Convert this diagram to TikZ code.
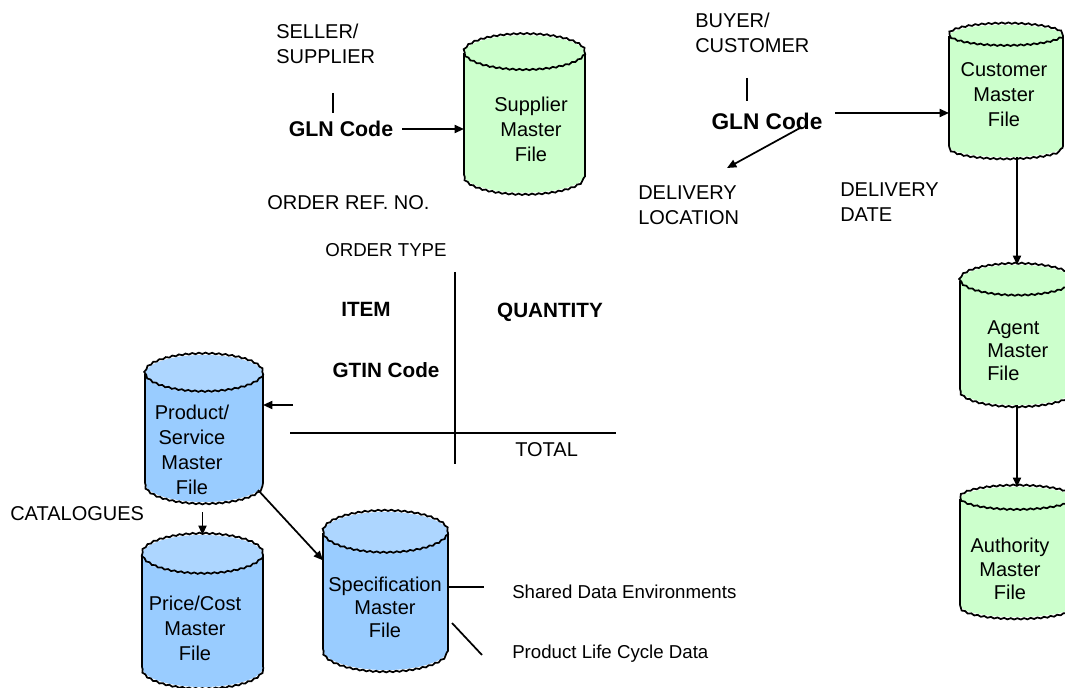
\documentclass[tikz,border=0pt]{standalone}
\usepackage{fontspec}
\setmainfont{Liberation Sans}
\usetikzlibrary{arrows.meta,decorations.pathmorphing}
\definecolor{dbgreen}{HTML}{CCFFCC}
\definecolor{dbblue}{HTML}{99CCFF}
\definecolor{dbbluetop}{HTML}{ADD6FF}
\tikzset{
  db/.style={draw=none, inner sep=0pt, outer sep=0pt, rectangle},
  ln/.style={line width=1.3pt, black},
  arr/.style={ln, -{Triangle[length=7pt,width=6pt]}},
  wav/.style={line width=1.3pt, black, decorate, decoration={snake, amplitude=0.5pt, segment length=5pt}},
  txt/.style={font=\fontsize{15}{18.75}\selectfont, inner sep=0pt},
  stxt/.style={font=\fontsize{14}{17.25}\selectfont, inner sep=0pt},
  btxt/.style={font=\fontsize{15.5}{18}\selectfont\bfseries, inner sep=0pt},
}
\newcommand\dbshape[5]{% name, body colour, top colour, half width, ry
  \fill[#2] ([yshift=-#5]#1.north west) -- ([yshift=#5]#1.south west)
     arc[start angle=180,end angle=360,x radius=#4,y radius=#5]
     -- ([yshift=-#5]#1.north east) -- cycle;
  \fill[#3] ([yshift=-#5]#1.north) ellipse[x radius=#4,y radius=#5];
  \draw[wav] ([yshift=-#5]#1.north) ellipse[x radius=#4,y radius=#5];
  \draw[ln] ([yshift=-#5]#1.north west) -- ([yshift=#5]#1.south west);
  \draw[ln] ([yshift=-#5]#1.north east) -- ([yshift=#5]#1.south east);
  \draw[wav] ([yshift=#5]#1.south west) arc[start angle=180,end angle=360,x radius=#4,y radius=#5];
}
\begin{document}
\begin{tikzpicture}[x=0.75pt,y=-0.75pt]
\useasboundingbox (0,0) rectangle (1065,688);
\fill[white] (0,0) rectangle (1065,688);

% databases
\node[db, minimum width=90.75pt, minimum height=118pt] (sup) at (524.5,114) {};
\dbshape{sup}{dbgreen}{dbgreen}{45.375pt}{13.5pt}
\node[db, minimum width=85.5pt, minimum height=99pt] (cust) at (1006,91) {};
\dbshape{cust}{dbgreen}{dbgreen}{42.75pt}{8.25pt}
\node[db, minimum width=85.5pt, minimum height=105pt] (agent) at (1017,335) {};
\dbshape{agent}{dbgreen}{dbgreen}{42.75pt}{12pt}
\node[db, minimum width=85.5pt, minimum height=97.5pt] (auth) at (1017,552) {};
\dbshape{auth}{dbgreen}{dbgreen}{42.75pt}{9pt}
\node[db, minimum width=88.5pt, minimum height=110.25pt] (prod) at (204,428.5) {};
\dbshape{prod}{dbblue}{dbbluetop}{44.25pt}{14.25pt}
\node[db, minimum width=90.75pt, minimum height=114pt] (price) at (202.5,611) {};
\dbshape{price}{dbblue}{dbbluetop}{45.375pt}{15pt}
\node[db, minimum width=93.75pt, minimum height=118.5pt] (spec) at (385.5,591) {};
\dbshape{spec}{dbblue}{dbbluetop}{46.875pt}{15.75pt}

% database texts
\node[txt, align=center] (tsup) at (531,129) {Supplier\\Master\\File};
\node[txt, align=center] (tcust) at (1004,95) {Customer\\Master\\File};
\node[txt, align=left, anchor=west, font=\fontsize{15}{17.25}\selectfont] (tagent) at (987,351) {Agent\\Master\\File};
\node[txt, align=center, font=\fontsize{15}{17.6}\selectfont] (tauth) at (1010,569) {Authority\\Master\\File};
\node[txt, align=center] (tprod) at (192,450) {Product/\\Service\\Master\\File};
\node[txt, align=center] (tprice) at (195,628) {Price/Cost\\Master\\File};
\node[txt, align=center, font=\fontsize{15}{17.25}\selectfont] (tspec) at (385,607) {Specification\\Master\\File};

% labels
\node[txt, align=left, anchor=west] (seller) at (276,43.5) {SELLER/\\SUPPLIER};
\node[txt, align=left, anchor=west] (buyer) at (695,32.5) {BUYER/\\CUSTOMER};
\node[btxt, font=\fontsize{16}{18}\selectfont\bfseries] (gln1) at (341,129) {GLN Code};
\node[btxt, font=\fontsize{17}{19}\selectfont\bfseries] (gln2) at (767,121) {GLN Code};
\node[txt, align=left, anchor=west] (dloc) at (638,205.5) {DELIVERY\\LOCATION};
\node[txt, align=left, anchor=west] (ddate) at (840,202) {DELIVERY\\DATE};
\node[txt, anchor=west] (oref) at (267,203) {ORDER REF. NO.};
\node[stxt, anchor=west] (otype) at (325,250) {ORDER TYPE};
\node[btxt] (item) at (366,309) {ITEM};
\node[btxt] (qty) at (550,312) {QUANTITY};
\node[btxt] (gtin) at (386,370) {GTIN Code};
\node[txt, anchor=west] (total) at (515,450) {TOTAL};
\node[txt, anchor=west] (cat) at (10,514) {CATALOGUES};
\node[stxt, anchor=west] (shared) at (512,592) {Shared Data Environments};
\node[stxt, anchor=west] (plc) at (512,654) {Product Life Cycle Data};

% coordinates
\coordinate (s1) at (333,93);
\coordinate (s2) at (333,113);
\coordinate (b1) at (747,78);
\coordinate (b2) at (747,101);
\coordinate (g2a) at (835,113);
\coordinate (dls) at (800,128);
\coordinate (dle) at (727,168);
\coordinate (pa) at (293,405);
\coordinate (tv1) at (455,272);
\coordinate (tv2) at (455,464);
\coordinate (th1) at (290,433);
\coordinate (th2) at (616,433);
\coordinate (se) at (484,587);
\coordinate (pe) at (482,655);

% connectors
\draw[ln] (s1) -- (s2);
\draw[ln] (b1) -- (b2);
\draw[arr] ([xshift=6.75pt]gln1.east) -- (gln1 -| sup.west);
\draw[arr] (g2a) -- (g2a -| cust.west);
\draw[arr] (dls) -- (dle);
\draw[ln] (tv1) -- (tv2);
\draw[ln] (th1) -- (th2);
\draw[arr] (pa) -- (pa -| prod.east);
\draw[arr] ([yshift=-7.5pt]prod.south -| price.north) -- (price.north);
\draw[arr] ([shift={(-3.75pt,9pt)}]prod.south east) -- ([yshift=23pt]spec.west);
\draw[ln] ([yshift=3pt]spec.east) -- (se);
\draw[ln] ([shift={(3pt,-24pt)}]spec.east) -- (pe);
\draw[arr] (cust.south -| agent.north) -- (agent.north);
\draw[arr] (agent.south) -- (auth.north);
\end{tikzpicture}
\end{document}
